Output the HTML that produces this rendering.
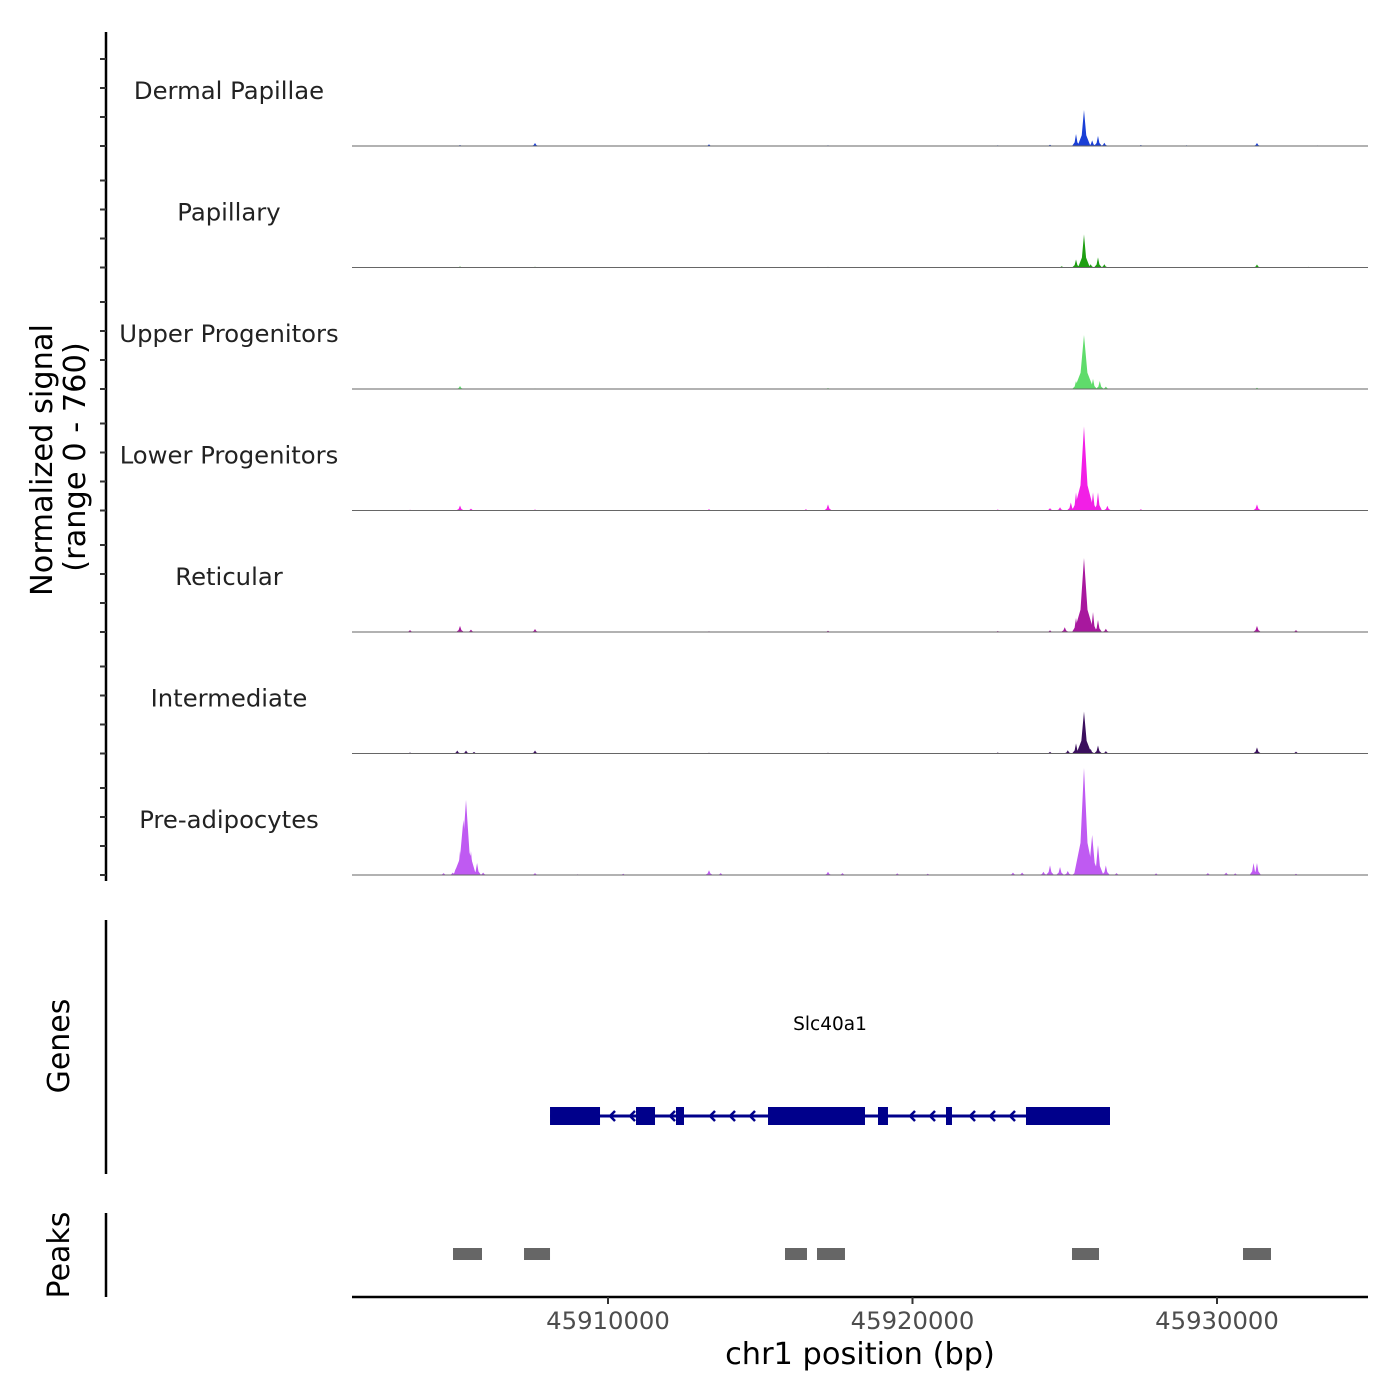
<!DOCTYPE html>
<html><head><meta charset="utf-8"><style>
html,body{margin:0;padding:0;background:#fff}
svg{display:block;font-family:"DejaVu Sans","Liberation Sans",sans-serif}
</style></head><body>
<svg id="chart" width="1400" height="1400" viewBox="0 0 1400 1400"></svg>
<script>
const trackNames = ["Dermal Papillae","Papillary","Upper Progenitors","Lower Progenitors","Reticular","Intermediate","Pre-adipocytes"];
const trackColors = ["#1a3fd6","#1e9e12","#5fdc6b","#f21fe6","#a8189e","#3b0f5e","#bf5af2"];
// signal spikes per track: [position bp, signal value]
const sigDP = [[45903500,3],[45905140,6],[45907603,19],[45913317,10],[45917225,5],[45922800,5],[45924516,8],[45925370,75],[45925632,225],[45925900,35],[45926092,63],[45926300,20],[45927500,6],[45929000,5],[45931313,19],[45933300,4]];
const sigPap = [[45905140,6],[45907603,5],[45917225,4],[45924900,8],[45925370,50],[45925632,207],[45925850,20],[45926092,63],[45926300,20],[45931313,19],[45933000,4]];
const sigUp = [[45905140,19],[45907603,4],[45917225,6],[45925370,50],[45925632,338],[45925850,30],[45925928,63],[45926150,50],[45926350,15],[45931313,8]];
const sigLow = [[45903500,5],[45905140,31],[45905500,12],[45907603,6],[45913317,8],[45916500,8],[45917225,38],[45922800,6],[45924516,15],[45924845,20],[45925200,50],[45925370,113],[45925632,526],[45925928,113],[45926092,113],[45926400,30],[45927500,8],[45931313,38]];
const sigRet = [[45903498,12],[45905140,38],[45905500,15],[45907603,19],[45913317,5],[45917225,8],[45922800,6],[45924516,10],[45925000,30],[45925370,88],[45925632,463],[45925850,40],[45925928,125],[45926092,75],[45926350,20],[45931313,38],[45932594,12]];
const sigInt = [[45903498,6],[45905050,19],[45905337,19],[45905600,10],[45907603,19],[45913317,5],[45917225,5],[45922800,6],[45924516,10],[45925100,20],[45925370,63],[45925632,263],[45925850,30],[45926092,50],[45926350,15],[45931313,38],[45932594,12]];
const sigPre = [[45904600,12],[45904900,15],[45905000,40],[45905140,150],[45905250,344],[45905337,470],[45905500,150],[45905700,75],[45905900,15],[45907603,12],[45909000,5],[45910500,8],[45913317,30],[45913700,12],[45917225,20],[45917700,12],[45919500,10],[45920500,8],[45923300,15],[45923600,15],[45924300,20],[45924516,60],[45924845,50],[45925100,25],[45925370,40],[45925632,670],[45925900,250],[45926092,188],[45926350,60],[45926700,12],[45928000,10],[45929700,12],[45930300,15],[45930600,10],[45931200,75],[45931313,75],[45932594,8]];
const trackSignals = [sigDP,sigPap,sigUp,sigLow,sigRet,sigInt,sigPre];
const exons = [[45908096,45909738],[45910920,45911544],[45912233,45912496],[45915255,45918440],[45918867,45919195],[45921100,45921297],[45923727,45926486]];
const geneStart = 45908096, geneEnd = 45926486;
const peakRegions = [[45904910,45905862],[45907242,45908096],[45915813,45916535],[45916864,45917783],[45925238,45926125],[45930854,45931773]];
const xTicks = [45910000,45920000,45930000];
const yMax = 760;

const NS="http://www.w3.org/2000/svg";
const svg=document.getElementById('chart');
const X0=352,X1=1368,BP0=45901593,BP1=45934959;
const xs=bp=>X0+(bp-BP0)/(BP1-BP0)*(X1-X0);
const trackH=121.5, firstBase=146;
function mk(tag,attrs,parent){const e=document.createElementNS(NS,tag);for(const k in attrs)e.setAttribute(k,attrs[k]);(parent||svg).appendChild(e);return e;}

let ax=mk('line',{x1:106,y1:32,x2:106,y2:881,stroke:'#000','stroke-width':2.5});

for(let t=0;t<7;t++){const b=firstBase+t*trackH;for(let k=0;k<4;k++){const tk=mk('line',{x1:100,x2:106,y1:b-k*29,y2:b-k*29,stroke:'#333','stroke-width':2});}}
let yt=mk('text',{x:0,y:0,transform:'translate(52,460) rotate(-90)','text-anchor':'middle','font-size':30.4,fill:'#000'});yt.textContent='Normalized signal';

let yt2=mk('text',{x:0,y:0,transform:'translate(85,457) rotate(-90)','text-anchor':'middle','font-size':30.4,fill:'#000'});yt2.textContent='(range 0 - 760)';


trackNames.forEach((name,i)=>{
  const base=firstBase+i*trackH;
  const g=mk('g',{});
  const lbl=mk('text',{x:229,y:base-47,'text-anchor':'middle','font-size':24.3,fill:'#222'},g);lbl.textContent=name;
  
  trackSignals[i].forEach(([p,v])=>{
    const x=xs(p),h=v/yMax*trackH,w=Math.max(4,Math.min(10,h*0.18));
    const s=mk('polygon',{points:`${x-w},${base} ${x-w*0.35},${base-h*0.3} ${x},${base-h} ${x+w*0.35},${base-h*0.3} ${x+w},${base}`,fill:trackColors[i]},g);
    
  });
  const bl=mk('line',{x1:X0,x2:X1,y1:base,y2:base,stroke:'#666','stroke-width':1},g);
  
});

let ga=mk('line',{x1:106,y1:920,x2:106,y2:1174,stroke:'#000','stroke-width':2.5});
let gt=mk('text',{x:0,y:0,transform:'translate(69,1046) rotate(-90)','text-anchor':'middle','font-size':30,fill:'#000'});gt.textContent='Genes';

let gn=mk('text',{x:830,y:1030,'text-anchor':'middle','font-size':18.5,fill:'#000'});gn.textContent='Slc40a1';

const gg=mk('g',{});
mk('line',{x1:xs(geneStart),x2:xs(geneEnd),y1:1116,y2:1116,stroke:'#00008b','stroke-width':3},gg);
for(let x=xs(geneStart)+60;x<xs(geneEnd);x+=20){
  if(exons.some(([a,b])=>x>xs(a)-4&&x<xs(b)+8))continue;
  mk('polyline',{points:`${x+5},${1111} ${x},${1116} ${x+5},${1121}`,fill:'none',stroke:'#00008b','stroke-width':2.5},gg);
}
exons.forEach(([a,b])=>{const r=mk('rect',{x:xs(a),y:1107,width:Math.max(2,xs(b)-xs(a)),height:18,fill:'#00008b'},gg);});

let pa=mk('line',{x1:106,y1:1213,x2:106,y2:1297,stroke:'#000','stroke-width':2.5});
let pt=mk('text',{x:0,y:0,transform:'translate(69,1255) rotate(-90)','text-anchor':'middle','font-size':30,fill:'#000'});pt.textContent='Peaks';

peakRegions.forEach(([a,b])=>{const r=mk('rect',{x:xs(a),y:1248,width:xs(b)-xs(a),height:12,fill:'#666'});});

let xa=mk('line',{x1:X0,x2:X1,y1:1297,y2:1297,stroke:'#000','stroke-width':2.5});
xTicks.forEach(t=>{const x=xs(t);const l=mk('line',{x1:x,x2:x,y1:1297,y2:1304,stroke:'#333','stroke-width':2});
  const tx=mk('text',{x:x,y:1329,'text-anchor':'middle','font-size':24.3,fill:'#4d4d4d'});tx.textContent=String(t);});
let xt=mk('text',{x:860,y:1364,'text-anchor':'middle','font-size':30.4,fill:'#000'});xt.textContent='chr1 position (bp)';

</script>
</body></html>
